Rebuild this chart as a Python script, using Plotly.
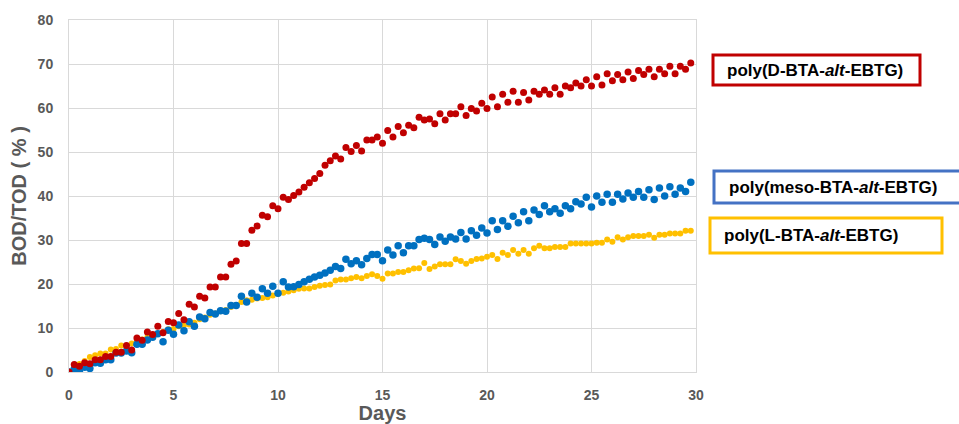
import plotly.graph_objects as go

days = [i * 0.25 for i in range(120)]

red_d = [0, 1.7, 1.3, 2.1, 1.9, 2.8, 2.8, 3.5, 3.5, 4.5, 4.5, 6.0, 5.0, 7.7, 7.2, 9.1, 8.5, 10.4, 8.9, 11.5,
         11.2, 13.3, 11.9, 15.4, 14.8, 17.2, 16.8, 19.3, 19.3, 21.6, 21.6, 24.5, 25.2, 29.2, 29.2, 32.2, 33.2, 35.6, 35.3, 37.8,
         37.1, 39.7, 39.2, 40.1, 40.9, 42.0, 43.0, 44.0, 45.1, 47.0, 48.0, 49.1, 48.4, 51.0, 50.1, 51.5, 50.2, 52.7, 52.7, 53.4,
         52.0, 54.9, 53.4, 55.8, 54.4, 56.1, 55.5, 57.9, 57.3, 57.5, 56.4, 58.7, 57.3, 58.7, 58.7, 60.3, 58.3, 59.9, 59.3, 61.1,
         59.9, 62.5, 60.3, 63.1, 61.3, 63.8, 61.3, 63.5, 61.8, 63.8, 63.1, 64.1, 63.1, 64.6, 63.1, 65.0, 64.6, 65.7, 65.0, 66.4,
         65.0, 67.1, 65.2, 67.8, 66.2, 67.6, 66.4, 68.2, 66.7, 68.5, 67.6, 68.8, 67.1, 68.8, 67.8, 69.5, 67.8, 69.5, 68.8, 70.2]

meso = [0, 0.6, 0.2, 1.1, 0.8, 2.1, 2.0, 2.8, 2.8, 4.3, 4.3, 4.8, 4.4, 6.3, 6.3, 7.3, 7.9, 8.7, 6.9, 9.5,
        8.6, 10.7, 9.4, 11.4, 10.4, 12.5, 12.1, 13.5, 13.2, 13.9, 13.8, 15.1, 15.1, 17.2, 15.9, 17.9, 17.0, 18.9, 17.9, 19.5,
        17.9, 20.5, 19.3, 19.4, 19.9, 20.5, 21.1, 21.6, 22.0, 22.5, 23.1, 24.0, 23.5, 25.6, 24.6, 25.3, 24.4, 25.8, 26.7, 26.7,
        25.3, 27.7, 26.6, 28.7, 27.1, 28.7, 28.7, 30.1, 30.4, 30.1, 29.0, 30.7, 29.7, 30.7, 30.2, 31.7, 30.2, 32.1, 31.1, 32.7,
        31.6, 34.4, 32.4, 34.4, 33.1, 35.4, 33.9, 36.4, 34.4, 36.8, 35.8, 37.8, 36.4, 37.1, 36.1, 37.8, 37.1, 38.7, 38.2, 39.7,
        37.5, 40.0, 38.6, 40.4, 38.6, 40.4, 39.3, 40.7, 39.7, 41.0, 39.7, 41.4, 39.2, 41.8, 40.0, 42.1, 40.4, 41.8, 41.0, 43.1]

l_ser = [0, 1.4, 1.8, 2.5, 3.4, 3.8, 4.2, 4.2, 5.1, 5.2, 6.0, 5.8, 6.5, 7.2, 7.4, 7.9, 8.3, 8.7, 9.1, 9.7,
         9.8, 10.4, 10.6, 10.8, 11.2, 12.0, 12.4, 13.0, 13.3, 13.8, 14.1, 14.8, 15.2, 15.9, 16.3, 16.4, 16.7, 16.8, 17.0, 17.4,
         17.8, 18.0, 18.3, 18.6, 18.9, 19.0, 19.0, 19.3, 19.6, 19.8, 19.9, 20.8, 21.0, 21.0, 21.3, 21.6, 21.3, 21.8, 22.2, 21.8,
         21.2, 22.4, 22.4, 22.7, 22.7, 23.1, 23.5, 23.6, 24.8, 23.4, 24.0, 24.5, 24.5, 24.5, 25.6, 25.2, 24.6, 25.2, 25.7, 25.8,
         26.2, 26.6, 25.7, 27.1, 26.6, 27.7, 26.9, 27.7, 26.9, 28.1, 28.7, 28.1, 28.1, 28.4, 28.4, 28.4, 29.2, 29.2, 29.2, 29.2,
         29.2, 29.4, 29.4, 30.1, 29.6, 30.6, 30.1, 30.6, 30.9, 30.9, 30.9, 31.2, 30.5, 31.2, 31.2, 31.5, 31.5, 31.5, 32.1, 32.1]

names = ["poly(D-BTA-<i>alt</i>-EBTG)", "poly(meso-BTA-<i>alt</i>-EBTG)", "poly(L-BTA-<i>alt</i>-EBTG)"]
colors = ["#C00000", "#0070C0", "#FFC000"]
box_colors = ["#C00000", "#4472C4", "#FFC000"]

x_ticks = [0, 5, 10, 15, 20, 25, 30]
y_ticks = [0, 10, 20, 30, 40, 50, 60, 70, 80]

fig = go.Figure()
for ser, col, nm, sz in [(l_ser, colors[2], names[2], 6), (meso, colors[1], names[1], 7.5), (red_d, colors[0], names[0], 7)]:
    fig.add_trace(go.Scatter(x=days, y=ser, mode="markers", name=nm,
                             marker=dict(color=col, size=sz, line=dict(width=0))))

W, H = 959, 424
ml, mr, mt, mb = 69, 263, 20, 52
pw, ph = W - ml - mr, H - mt - mb

def px(x):
    return (x - ml) / pw

def py(y):
    return (H - mb - y) / ph

font_lab = dict(family="Liberation Sans, Arial, sans-serif", size=17, color="black")
# (text, colour, left, top, right, bottom, text-left)
boxes = [
    (names[0], box_colors[0], 713, 55, 920, 85, 725),
    (names[1], box_colors[1], 714, 171, 975, 203, 727),
    (names[2], box_colors[2], 710, 218, 942, 253, 722),
]
for txt, col, x0, y0, x1, y1, tx in boxes:
    fig.add_shape(type="rect", xref="paper", yref="paper", x0=px(x0), x1=px(x1), y0=py(y1), y1=py(y0),
                  line=dict(color=col, width=3), fillcolor="white", layer="above")
    fig.add_annotation(xref="paper", yref="paper", x=px(tx), y=py((y0 + y1) / 2), xanchor="left",
                       yanchor="middle", text="<b>" + txt + "</b>", showarrow=False, font=font_lab)

axis_font = dict(family="Liberation Sans, Arial, sans-serif", size=14, color="#595959")
title_font = dict(family="Liberation Sans, Arial, sans-serif", size=20, color="#595959")

fig.update_layout(
    width=W, height=H, margin=dict(l=ml, r=mr, t=mt, b=mb, autoexpand=False),
    paper_bgcolor="white", plot_bgcolor="white", showlegend=False,
    xaxis=dict(range=[0, 30], tickvals=x_ticks, ticktext=["<b>%d</b>" % v for v in x_ticks],
               showgrid=True, gridcolor="#D9D9D9", gridwidth=1, zeroline=False, automargin=False,
               showline=True, linecolor="#D9D9D9", linewidth=1, mirror=True,
               tickfont=axis_font, ticks="", ticklabelstandoff=10,
               title=dict(text="<b>Days</b>", font=title_font, standoff=2)),
    yaxis=dict(range=[0, 80], tickvals=y_ticks, ticktext=["<b>%d</b>" % v for v in y_ticks],
               showgrid=True, gridcolor="#D9D9D9", gridwidth=1, zeroline=False, automargin=False,
               showline=True, linecolor="#D9D9D9", linewidth=1, mirror=True,
               tickfont=axis_font, ticks="", ticklabelstandoff=12,
               title=dict(text="<b>BOD/TOD ( % )</b>", font=title_font, standoff=5)),
)

fig.write_html("out.html", config={"displayModeBar": False},
               post_script="document.body.style.margin='0px';document.body.style.overflow='hidden';")
